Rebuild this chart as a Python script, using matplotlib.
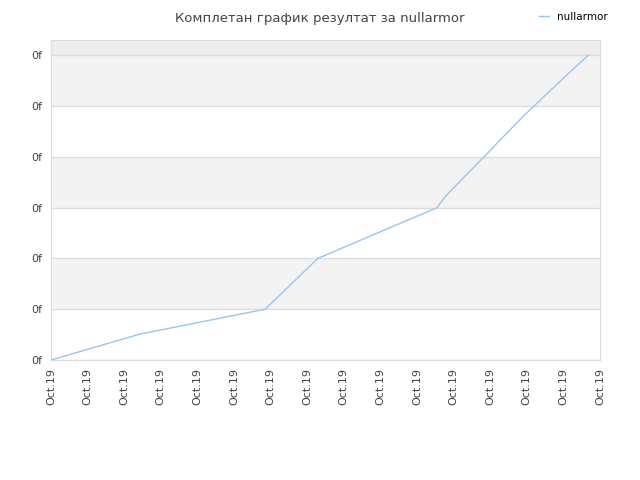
import matplotlib
matplotlib.use("Agg")
import matplotlib.pyplot as plt

title = "Комплетан график резултат за nullarmor"
series_name = "nullarmor"

# x in tick units (16 ticks all labelled "Oct.19"), y in grid units
x_vals = [0.0, 2.43, 5.85, 7.29, 10.55, 10.75, 11.15, 11.9, 12.31, 12.89, 13.59, 14.3, 14.68]
y_vals = [0.0, 0.51, 1.0, 2.0, 3.0, 3.2, 3.5, 4.05, 4.36, 4.79, 5.27, 5.75, 6.0]

x_ticks = list(range(16))
x_labels = ["Oct.19"] * 16
y_ticks = list(range(7))
y_labels = ["0f"] * 7

fig = plt.figure(figsize=(6.4, 4.8), dpi=100)
ax = fig.add_axes([0.0797, 0.25, 0.8578, 0.6667])

y_top = 6.3
ax.set_xlim(0, 15)
ax.set_ylim(0, y_top)

# alternating bands
for i in range(len(y_ticks)):
    lo = y_ticks[i]
    hi = y_ticks[i + 1] if i + 1 < len(y_ticks) else y_top
    if i % 2 == 1:
        ax.axhspan(lo, hi, color="#f3f3f3", zorder=0, lw=0)
    elif i == len(y_ticks) - 1:
        ax.axhspan(lo, hi, color="#eeeeee", zorder=0, lw=0)

for t in y_ticks:
    ax.axhline(t, color="#dddddd", lw=1, zorder=1)

ax.plot(x_vals, y_vals, color="#96c6f4", lw=1, zorder=3, label=series_name)

ax.set_xticks(x_ticks)
ax.set_xticklabels(x_labels, rotation=90, fontsize=8, color="#444444")
ax.set_yticks(y_ticks)
ax.set_yticklabels(y_labels, fontsize=8, color="#444444")
ax.tick_params(length=0, pad=6)

for s in ax.spines.values():
    s.set_color("#dddddd")

fig.text(0.5, 0.975, title, ha="center", va="top", fontsize=9.5, color="#444444")

leg = fig.legend(loc="upper right", bbox_to_anchor=(0.965, 0.995), frameon=False,
                 fontsize=7.5, handlelength=1.0, handletextpad=0.8)

fig.savefig("out.png", dpi=100)
